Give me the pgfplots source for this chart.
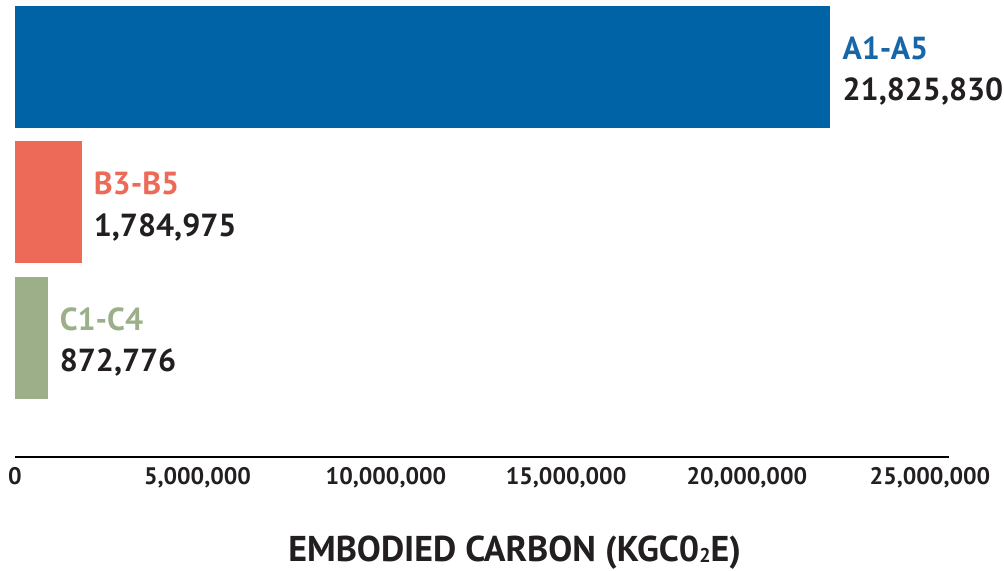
\documentclass[border=0pt]{standalone}
\usepackage{fontspec}
\setmainfont{PT Sans}
\usepackage{pgfplots}
\pgfplotsset{compat=1.18}
\definecolor{cA}{HTML}{0063A6}
\definecolor{cB}{HTML}{EC6A57}
\definecolor{cC}{HTML}{9CAF88}
\definecolor{tA}{HTML}{1767A8}
\definecolor{txt}{HTML}{231F20}
\begin{document}
\begin{tikzpicture}
\useasboundingbox (-15bp,-114bp) rectangle (989bp,457bp);
\begin{axis}[
  at={(0bp,0bp)}, anchor=south west,
  scale only axis, width=934bp, height=457bp,
  xmin=0, xmax=25000000,
  ymin=-0.878, ymax=2.494,
  axis x line*=bottom, axis y line=none,
  x axis line style={line width=2.5bp, -, black},
  xtick={0,4885000,9930000,14750000,19590000,24490000},
  xticklabels={{0},{5,000,000},{10,000,000},{15,000,000},{20,000,000},{25,000,000}},
  major tick length=0pt,
  scaled x ticks=false,
  xticklabel style={font=\fontsize{24}{28}\selectfont\bfseries, text=txt, anchor=north, yshift=-7bp},
  xlabel={EMBODIED CARBON (KGC0\raisebox{-0.05em}{\fontsize{20}{20}\selectfont 2}E)},
  every axis x label/.style={at={(axis description cs:0.535,0)}, anchor=base, yshift=-104bp, font=\fontsize{36}{40}\selectfont\bfseries, text=txt},
  xbar, bar width=122bp,
  clip=false,
  every axis plot/.append style={bar shift=0pt, draw=none},
  nodes near coords style={anchor=west, align=left, font=\fontsize{32}{42}\selectfont\bfseries, text=txt, inner sep=0pt, xshift=12bp, yshift=-4bp},
]
\addplot[fill=cA, nodes near coords={\textcolor{tA}{A1-A5}\\21,825,830}] coordinates {(21825830,2)};
\addplot[fill=cB, nodes near coords={\textcolor{cB}{B3-B5}\\1,784,975}] coordinates {(1784975,1)};
\addplot[fill=cC, nodes near coords={\textcolor{cC}{C1-C4}\\872,776}] coordinates {(872776,0)};
\end{axis}
\end{tikzpicture}
\end{document}
